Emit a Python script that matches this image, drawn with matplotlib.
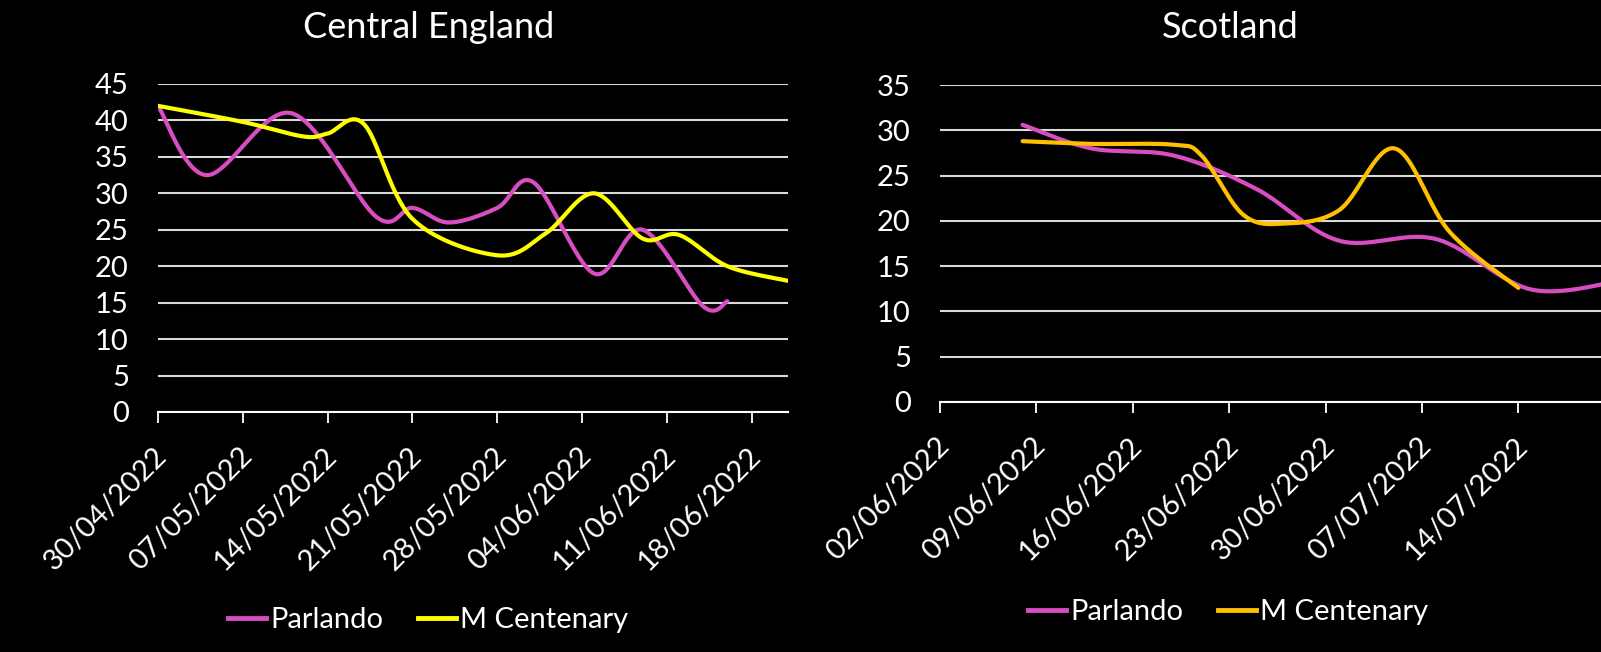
import numpy as np
import matplotlib
matplotlib.use("Agg")
import matplotlib.pyplot as plt
import matplotlib.dates as mdates
from matplotlib.lines import Line2D
from matplotlib.transforms import ScaledTranslation
from datetime import datetime

# Central England
eng_parlando_dates = ["30/04/2022", "04/05/2022", "11/05/2022", "18/05/2022",
                      "21/05/2022", "24/05/2022", "28/05/2022", "31/05/2022",
                      "05/06/2022", "09/06/2022", "14/06/2022", "16/06/2022"]
eng_parlando = [42, 32.5, 41, 26.8, 28, 26, 28, 31.5, 19, 25, 14.5, 15.2]
eng_centenary_dates = ["30/04/2022", "07/05/2022", "12/05/2022", "14/05/2022",
                       "17/05/2022", "21/05/2022", "28/05/2022", "01/06/2022",
                       "05/06/2022", "09/06/2022", "12/06/2022", "16/06/2022",
                       "21/06/2022"]
eng_centenary = [42, 39.8, 37.8, 38.2, 39.5, 26.5, 21.5, 24.5, 30, 23.8, 24.3, 20, 18]
eng_ticks = ["30/04/2022", "07/05/2022", "14/05/2022", "21/05/2022",
             "28/05/2022", "04/06/2022", "11/06/2022", "18/06/2022"]
eng_xlim = ["30/04/2022", "21/06/2022"]

# Scotland
sco_parlando_dates = ["08/06/2022", "13/06/2022", "19/06/2022", "25/06/2022",
                      "01/07/2022", "08/07/2022", "15/07/2022", "22/07/2022"]
sco_parlando = [30.6, 28.0, 27.2, 23.5, 17.8, 18.0, 12.4, 13.6]
sco_centenary_dates = ["08/06/2022", "13/06/2022", "19/06/2022", "21/06/2022",
                       "24/06/2022", "27/06/2022", "01/07/2022", "05/07/2022",
                       "09/07/2022", "14/07/2022"]
sco_centenary = [28.8, 28.5, 28.4, 27.2, 20.7, 19.7, 21.2, 28.0, 18.8, 12.6]
sco_ticks = ["02/06/2022", "09/06/2022", "16/06/2022", "23/06/2022",
             "30/06/2022", "07/07/2022", "14/07/2022"]
sco_xlim = ["02/06/2022", "20/07/2022"]

PINK = "#D94DC2"
YELLOW = "#FFFF00"
GOLD = "#FFC000"
FONT = "Lato"


def to_num(dates):
    return [mdates.date2num(datetime.strptime(d, "%d/%m/%Y")) for d in dates]


def smooth(xs, ys, n=40):
    # Excel-style smoothed line: cubic bezier through every point
    p = np.column_stack([xs, ys]).astype(float)
    p = np.vstack([p[0], p, p[-1]])
    t = np.linspace(0, 1, n)[:, None]
    out = []
    for i in range(1, len(p) - 2):
        p0, p1, p2, p3 = p[i - 1], p[i], p[i + 1], p[i + 2]
        c1 = p1 + (p2 - p0) / 6
        c2 = p2 - (p3 - p1) / 6
        out.append((1 - t) ** 3 * p1 + 3 * (1 - t) ** 2 * t * c1
                   + 3 * (1 - t) * t ** 2 * c2 + t ** 3 * p2)
    return np.vstack(out)


def draw_panel(ax, series, ticks, xlim, ymax):
    ax.set_facecolor("black")
    for xd, yv, color in series:
        c = smooth(to_num(xd), yv)
        ax.plot(c[:, 0], c[:, 1], color=color, lw=3.0, solid_capstyle="round")
    ax.set_xlim(*to_num(xlim))
    ax.set_ylim(0, ymax)
    ax.set_yticks(range(0, ymax + 1, 5))
    ax.set_xticks(to_num(ticks))
    ax.set_xticklabels(ticks)
    ax.grid(axis="y", color="#D9D9D9", lw=1.5)
    ax.set_axisbelow(True)
    for s in ["left", "right", "top"]:
        ax.spines[s].set_visible(False)
    ax.spines["bottom"].set_color("white")
    ax.spines["bottom"].set_linewidth(1.5)
    ax.tick_params(axis="y", length=0, pad=21, labelcolor="white", labelsize=21)
    ax.tick_params(axis="x", length=8, width=1.3, color="white", direction="out",
                   pad=14, labelcolor="white", labelsize=21)
    for lab in ax.get_yticklabels():
        lab.set_fontfamily(FONT)
    off = ScaledTranslation(-4 / 100, 0, ax.figure.dpi_scale_trans)
    for lab in ax.get_xticklabels():
        lab.set_fontfamily(FONT)
        lab.set_rotation(45)
        lab.set_ha("right")
        lab.set_va("top")
        lab.set_rotation_mode("anchor")
        lab.set_transform(lab.get_transform() + off)


fig = plt.figure(figsize=(16.01, 6.52), dpi=100)
fig.patch.set_facecolor("black")

ax1 = fig.add_axes([158 / 1601, 1 - 412 / 652, 630 / 1601, 328 / 652])
draw_panel(ax1, [(eng_parlando_dates, eng_parlando, PINK),
                 (eng_centenary_dates, eng_centenary, YELLOW)],
           eng_ticks, eng_xlim, 45)

ax2 = fig.add_axes([940 / 1601, 1 - 402 / 652, 661 / 1601, 317 / 652])
draw_panel(ax2, [(sco_parlando_dates, sco_parlando, PINK),
                 (sco_centenary_dates, sco_centenary, GOLD)],
           sco_ticks, sco_xlim, 35)

fig.text(429 / 1601, 1 - 38 / 652, "Central England", color="white",
         fontsize=26, family=FONT, ha="center", va="baseline")
fig.text(1230 / 1601, 1 - 38 / 652, "Scotland", color="white",
         fontsize=26, family=FONT, ha="center", va="baseline")

for cx, cy, col in [(428, 620, YELLOW), (1228, 612, GOLD)]:
    handles = [Line2D([], [], color=PINK, lw=3.5), Line2D([], [], color=col, lw=3.5)]
    fig.legend(handles, ["Parlando", "M Centenary"], loc="center",
               bbox_to_anchor=(cx / 1601, 1 - cy / 652), ncol=2, frameon=False,
               handlelength=1.3, handletextpad=0.15, columnspacing=1.2,
               prop={"family": FONT, "size": 21}, labelcolor="white")

fig.savefig("out.png", dpi=100, facecolor="black")
